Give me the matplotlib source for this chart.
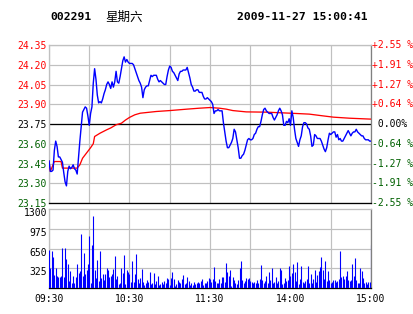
import matplotlib
matplotlib.use("Agg")
import matplotlib.pyplot as plt
import matplotlib.transforms as mtransforms

# ---- data ----
stock_code = "002291"
weekday = "星期六"
stamp = "2009-11-27 15:00:41"
prev_close = 23.75

# last price per minute, 09:30 .. 11:30 / 13:00 .. 15:00 (241 points)
prices = [
    23.47, 23.39, 23.39, 23.40, 23.55, 23.62, 23.58, 23.50, 23.50, 23.48,
    23.46, 23.38, 23.31, 23.28, 23.39, 23.43, 23.41, 23.42, 23.44, 23.41,
    23.40, 23.37, 23.50, 23.62, 23.73, 23.84, 23.86, 23.88, 23.87, 23.81,
    23.74, 23.83, 23.88, 24.06, 24.17, 24.09, 23.97, 23.91, 23.92, 23.91,
    23.94, 23.98, 24.01, 24.05, 24.07, 24.05, 24.02, 24.07, 24.03, 24.07,
    24.15, 24.07, 24.06, 24.11, 24.17, 24.23, 24.26, 24.22, 24.24, 24.22,
    24.21, 24.21, 24.21, 24.20, 24.17, 24.14, 24.11, 24.08, 24.06, 24.03,
    23.95, 24.01, 24.03, 24.04, 24.04, 24.08, 24.12, 24.11, 24.12, 24.12,
    24.12, 24.09, 24.07, 24.08, 24.07, 24.06, 24.05, 24.05, 24.11, 24.16,
    24.19, 24.18, 24.15, 24.14, 24.12, 24.10, 24.08, 24.13, 24.15, 24.15,
    24.16, 24.16, 24.16, 24.18, 24.14, 24.10, 24.05, 24.03, 24.00, 24.00,
    24.01, 24.01, 23.99, 23.99, 23.99, 23.96, 23.94, 23.94, 23.95, 23.94,
    23.93, 23.92, 23.90, 23.83, 23.85, 23.85, 23.86, 23.85, 23.85, 23.85,
    23.76, 23.69, 23.62, 23.57, 23.57, 23.59, 23.61, 23.64, 23.71, 23.69,
    23.63, 23.57, 23.49, 23.49, 23.51, 23.52, 23.55, 23.59, 23.63, 23.64,
    23.63, 23.63, 23.64, 23.67, 23.68, 23.71, 23.73, 23.73, 23.77, 23.82,
    23.86, 23.87, 23.85, 23.84, 23.83, 23.83, 23.83, 23.80, 23.78, 23.80,
    23.82, 23.85, 23.87, 23.85, 23.82, 23.74, 23.74, 23.77, 23.76, 23.79,
    23.74, 23.85, 23.80, 23.71, 23.64, 23.61, 23.58, 23.63, 23.66, 23.73,
    23.76, 23.76, 23.75, 23.72, 23.71, 23.66, 23.58, 23.59, 23.67, 23.66,
    23.64, 23.64, 23.64, 23.62, 23.59, 23.56, 23.54, 23.57, 23.63, 23.68,
    23.67, 23.68, 23.69, 23.69, 23.65, 23.67, 23.63, 23.64, 23.62, 23.62,
    23.64, 23.66, 23.68, 23.70, 23.68, 23.66, 23.68, 23.69, 23.69, 23.71,
    23.69, 23.68, 23.67, 23.66, 23.66, 23.64, 23.63, 23.63, 23.63, 23.62,
    23.62,
]

# average price line, sampled at these minutes
avg_minutes = [0, 1, 3, 4, 9, 10, 21, 23, 25, 28, 31, 33, 34, 38, 43, 46, 50,
               54, 57, 60, 64, 68, 80, 90, 103, 112, 120, 127, 132, 137, 147,
               162, 180, 194, 204, 212, 224, 240]
avg_prices = [23.465, 23.39, 23.44, 23.465, 23.465, 23.415, 23.415, 23.44,
              23.49, 23.53, 23.57, 23.60, 23.655, 23.68, 23.706, 23.72,
              23.744, 23.756, 23.78, 23.80, 23.82, 23.832, 23.845, 23.852,
              23.863, 23.87, 23.875, 23.87, 23.863, 23.852, 23.842, 23.84,
              23.832, 23.825, 23.812, 23.802, 23.794, 23.787]

# volume per minute (hands)
volumes = [
    625, 335, 609, 510, 214, 329, 197, 181, 175, 203,
    664, 186, 664, 477, 395, 120, 280, 88, 203, 88,
    181, 395, 247, 285, 888, 203, 570, 236, 296, 395,
    855, 88, 707, 1185, 296, 170, 460, 115, 609, 165,
    230, 132, 230, 329, 296, 186, 197, 230, 313, 527,
    148, 197, 66, 77, 329, 247, 543, 66, 296, 263,
    230, 99, 444, 99, 230, 560, 148, 82, 165, 313,
    99, 49, 82, 132, 99, 263, 66, 82, 247, 66,
    115, 197, 49, 66, 99, 66, 115, 82, 165, 148,
    49, 165, 263, 148, 33, 66, 132, 99, 82, 148,
    214, 66, 82, 181, 115, 49, 82, 49, 99, 66,
    82, 99, 82, 120, 148, 49, 77, 77, 121, 159,
    148,
    104, 148, 346, 115, 77, 77, 148, 77, 181, 181,
    104, 417, 269, 197, 296, 38, 186, 132, 88, 60,
    126, 329, 444, 132, 77, 115, 170, 148, 165, 121,
    104, 88, 99, 77, 137, 88, 148, 378, 132, 77,
    115, 197, 77, 263, 132, 329, 77, 99, 186, 77,
    115, 329, 296, 66, 77, 165, 115, 132, 362, 197,
    247, 395, 258, 115, 422, 60, 148, 367, 99, 77,
    115, 148, 362, 77, 230, 88, 154, 296, 104, 219,
    280, 346, 510, 296, 148, 444, 115, 280, 132, 77,
    104, 132, 132, 104, 115, 148, 609, 181, 197, 148,
    197, 280, 132, 115, 132, 395, 197, 493, 132, 77,
    77, 329, 280, 165, 88, 99, 60, 99, 99, 713,
]

price_ticks = [24.35, 24.20, 24.05, 23.90, 23.75, 23.60, 23.45, 23.30, 23.15]
pct_labels = ["+2.55 %", "+1.91 %", "+1.27 %", "+0.64 %", " 0.00%",
              "-0.64 %", "-1.27 %", "-1.91 %", "-2.55 %"]
vol_ticks = [1300, 975, 650, 325]
time_ticks = [0, 60, 120, 180, 240]
time_labels = ["09:30", "10:30", "11:30", "14:00", "15:00"]

RED = "#ff0000"
BLUE = "#0000ff"
GREEN = "#006000"
GRID = "#c0c0c0"
MONO = "DejaVu Sans Mono"
PX = 0.72  # one pixel in points at dpi 100

W, H = 414, 314
fig = plt.figure(figsize=(W / 100, H / 100), dpi=100)
fig.patch.set_facecolor("white")


def box(l, t, r, b):
    return [l / W, 1 - b / H, (r - l) / W, (b - t) / H]


ax = fig.add_axes(box(49, 45, 371, 203))
axv = fig.add_axes(box(49, 209, 371, 288))

minutes = list(range(len(prices)))

# ---- price panel ----
ax.set_xlim(0, 240)
ax.set_ylim(23.15, 24.35)
for m in range(0, 241, 30):
    ax.axvline(m, color=GRID, lw=PX * 1.2, zorder=1)
for p in price_ticks:
    if p == prev_close:
        ax.axhline(p, color="black", lw=PX * 1.3, zorder=2)
    else:
        ax.axhline(p, color=GRID, lw=PX * 1.2, zorder=1)
ax.plot(avg_minutes, avg_prices, color=RED, lw=PX * 1.3, zorder=3)
ax.plot(minutes, prices, color=BLUE, lw=PX * 1.4, zorder=4)

ax.set_xticks([])
ax.set_yticks(price_ticks)
ax.set_yticklabels([f"{p:.2f}" for p in price_ticks], family=MONO, fontsize=7)
ax.tick_params(axis="y", length=0, pad=1.5)
for lab, p in zip(ax.get_yticklabels(), price_ticks):
    lab.set_color(RED if p > prev_close else ("black" if p == prev_close else GREEN))

for p, s in zip(price_ticks, pct_labels):
    c = RED if p > prev_close else ("black" if p == prev_close else GREEN)
    ax.text(1.002, p, s, transform=ax.get_yaxis_transform(), ha="left",
            va="center", family=MONO, fontsize=7, color=c, clip_on=False)

for side in ["top", "left"]:
    ax.spines[side].set_color(GRID)
ax.spines["right"].set_color("#808080")
ax.spines["bottom"].set_color("black")
for sp in ax.spines.values():
    sp.set_linewidth(PX * 1.3)

# ---- volume panel ----
axv.set_xlim(0, 240)
axv.set_ylim(0, 1300)
for m in range(0, 241, 30):
    axv.axvline(m, color=GRID, lw=PX * 1.2, zorder=1)
for v in vol_ticks[1:]:
    axv.axhline(v, color=GRID, lw=PX * 1.2, zorder=1)
axv.vlines(minutes, 0, volumes, colors=BLUE, lw=PX * 1.1, zorder=3)

axv.set_yticks(vol_ticks)
axv.set_yticklabels([str(v) for v in vol_ticks], family=MONO, fontsize=7)
axv.tick_params(axis="y", length=0, pad=1.5)
shift = mtransforms.ScaledTranslation(0, -3 / 100, fig.dpi_scale_trans)
for lab in axv.get_yticklabels():
    lab.set_transform(lab.get_transform() + shift)

axv.set_xticks(time_ticks)
axv.set_xticklabels(time_labels, family=MONO, fontsize=7)
axv.tick_params(axis="x", length=0, pad=4)

for side in ["top", "left"]:
    axv.spines[side].set_color(GRID)
axv.spines["right"].set_color("#808080")
axv.spines["bottom"].set_color("black")
for sp in axv.spines.values():
    sp.set_linewidth(PX * 1.3)

# ---- header ----
fig.text(50 / W, 1 - 17 / H, stock_code, family=MONO, weight="bold",
         fontsize=8.2, va="center", ha="left")
fig.text(105 / W, 1 - 17 / H, weekday, family=["Noto Sans CJK SC", "DejaVu Sans"],
         fontsize=9, va="center", ha="left")
fig.text(237.5 / W, 1 - 17 / H, stamp, family=MONO, weight="bold",
         fontsize=8.2, va="center", ha="left")

fig.savefig("out.png", dpi=100)
